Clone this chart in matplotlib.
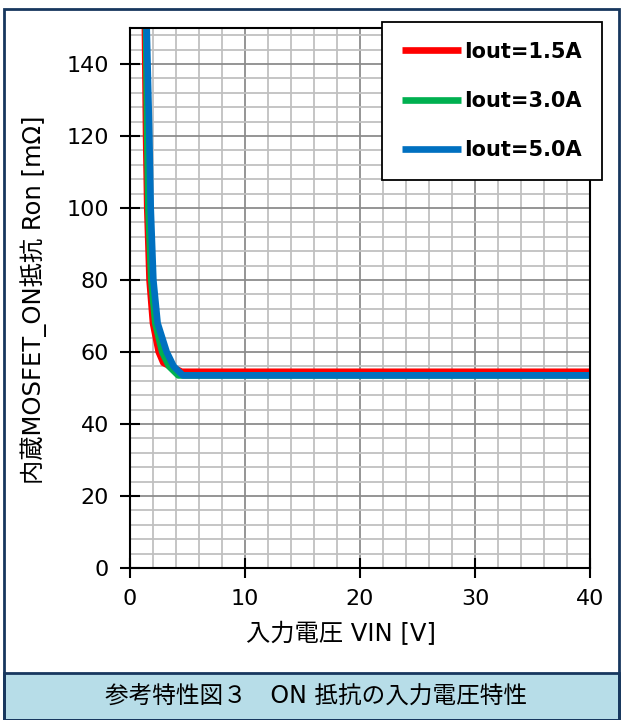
import numpy as np
import matplotlib.pyplot as plt
from matplotlib.patches import Rectangle
from matplotlib.ticker import MultipleLocator

plt.rcParams['font.family'] = ['DejaVu Sans', 'Noto Sans CJK JP']

vin_15 = [1.3, 1.4, 1.5, 1.7, 2.0, 2.5, 2.9, 3.5, 4.5, 5.0, 10.0, 20.0, 30.0, 40.0]
ron_15 = [150.0, 120.0, 100.0, 80.0, 68.0, 60.0, 57.0, 56.0, 54.5, 54.5, 54.5, 54.5, 54.5, 54.5]

vin_30 = [1.4, 1.5, 1.6, 1.85, 2.2, 2.8, 3.4, 4.2, 5.0, 10.0, 20.0, 30.0, 40.0]
ron_30 = [150.0, 120.0, 100.0, 80.0, 68.0, 60.0, 56.0, 53.5, 53.5, 53.5, 53.5, 53.5, 53.5]

vin_50 = [1.45, 1.68, 1.8, 2.03, 2.4, 3.19, 3.8, 4.6, 5.0, 10.0, 20.0, 30.0, 40.0]
ron_50 = [150.0, 120.0, 100.0, 80.0, 68.0, 60.0, 56.0, 53.5, 53.5, 53.5, 53.5, 53.5, 53.5]

labels = ['Iout=1.5A', 'Iout=3.0A', 'Iout=5.0A']
colors = ['#ff0000', '#00b050', '#0070c0']

fig = plt.figure(figsize=(6.23, 7.2), dpi=100)
ax = fig.add_axes([130/623, 1-568/720, 460/623, 540/720])

for xs, ys, lab, c in zip([vin_15, vin_30, vin_50], [ron_15, ron_30, ron_50], labels, colors):
    ax.plot(xs, ys, color=c, lw=4.8, label=lab, solid_capstyle='butt', solid_joinstyle='round')

ax.set_xlim(0, 40)
ax.set_ylim(0, 150)
ax.xaxis.set_major_locator(MultipleLocator(10))
ax.xaxis.set_minor_locator(MultipleLocator(2))
ax.yaxis.set_major_locator(MultipleLocator(20))
ax.yaxis.set_minor_locator(MultipleLocator(4))
ax.grid(which='major', color='#8c8c8c', lw=1.3)
ax.grid(which='minor', color='#c0c0c0', lw=1.3)
ax.set_axisbelow(True)
ax.tick_params(which='major', direction='inout', length=14, width=1.5, labelsize=16, pad=8)
ax.tick_params(which='minor', length=0)
for sp in ax.spines.values():
    sp.set_linewidth(1.5)
ax.set_xlabel('入力電圧 VIN [V]', fontsize=17.5)
ax.xaxis.set_label_coords(341/623, 1-622/720, transform=fig.transFigure)
ax.set_ylabel('内蔵MOSFET_ON抵抗 Ron [mΩ]', fontsize=17.5)
ax.yaxis.set_label_coords(47/623, 1-300/720, transform=fig.transFigure)

leg = ax.legend(loc='upper right', bbox_to_anchor=(602/623, 1-22/720), bbox_transform=fig.transFigure,
                frameon=True, fancybox=False, edgecolor='black', framealpha=1,
                prop={'family': 'DejaVu Sans', 'weight': 'bold', 'size': 15},
                handlelength=2.85, handletextpad=0.15, labelspacing=1.4, borderpad=0.95,
                borderaxespad=0)
leg.get_frame().set_linewidth(1.3)

# caption band and outer frame
fig.patches.append(Rectangle((4/623, 0), 615/623, 1-673/720, transform=fig.transFigure,
                             facecolor='#b7dde8', edgecolor='#17375e', lw=2, zorder=0))
fig.patches.append(Rectangle((4/623, 0), 615/623, 1-9/720, transform=fig.transFigure,
                             facecolor='none', edgecolor='#17375e', lw=2, zorder=0))
fig.text(316/623, 1-697/720, '参考特性図３　ON 抵抗の入力電圧特性', ha='center', va='center', fontsize=17)

fig.savefig('out.png', dpi=100)
